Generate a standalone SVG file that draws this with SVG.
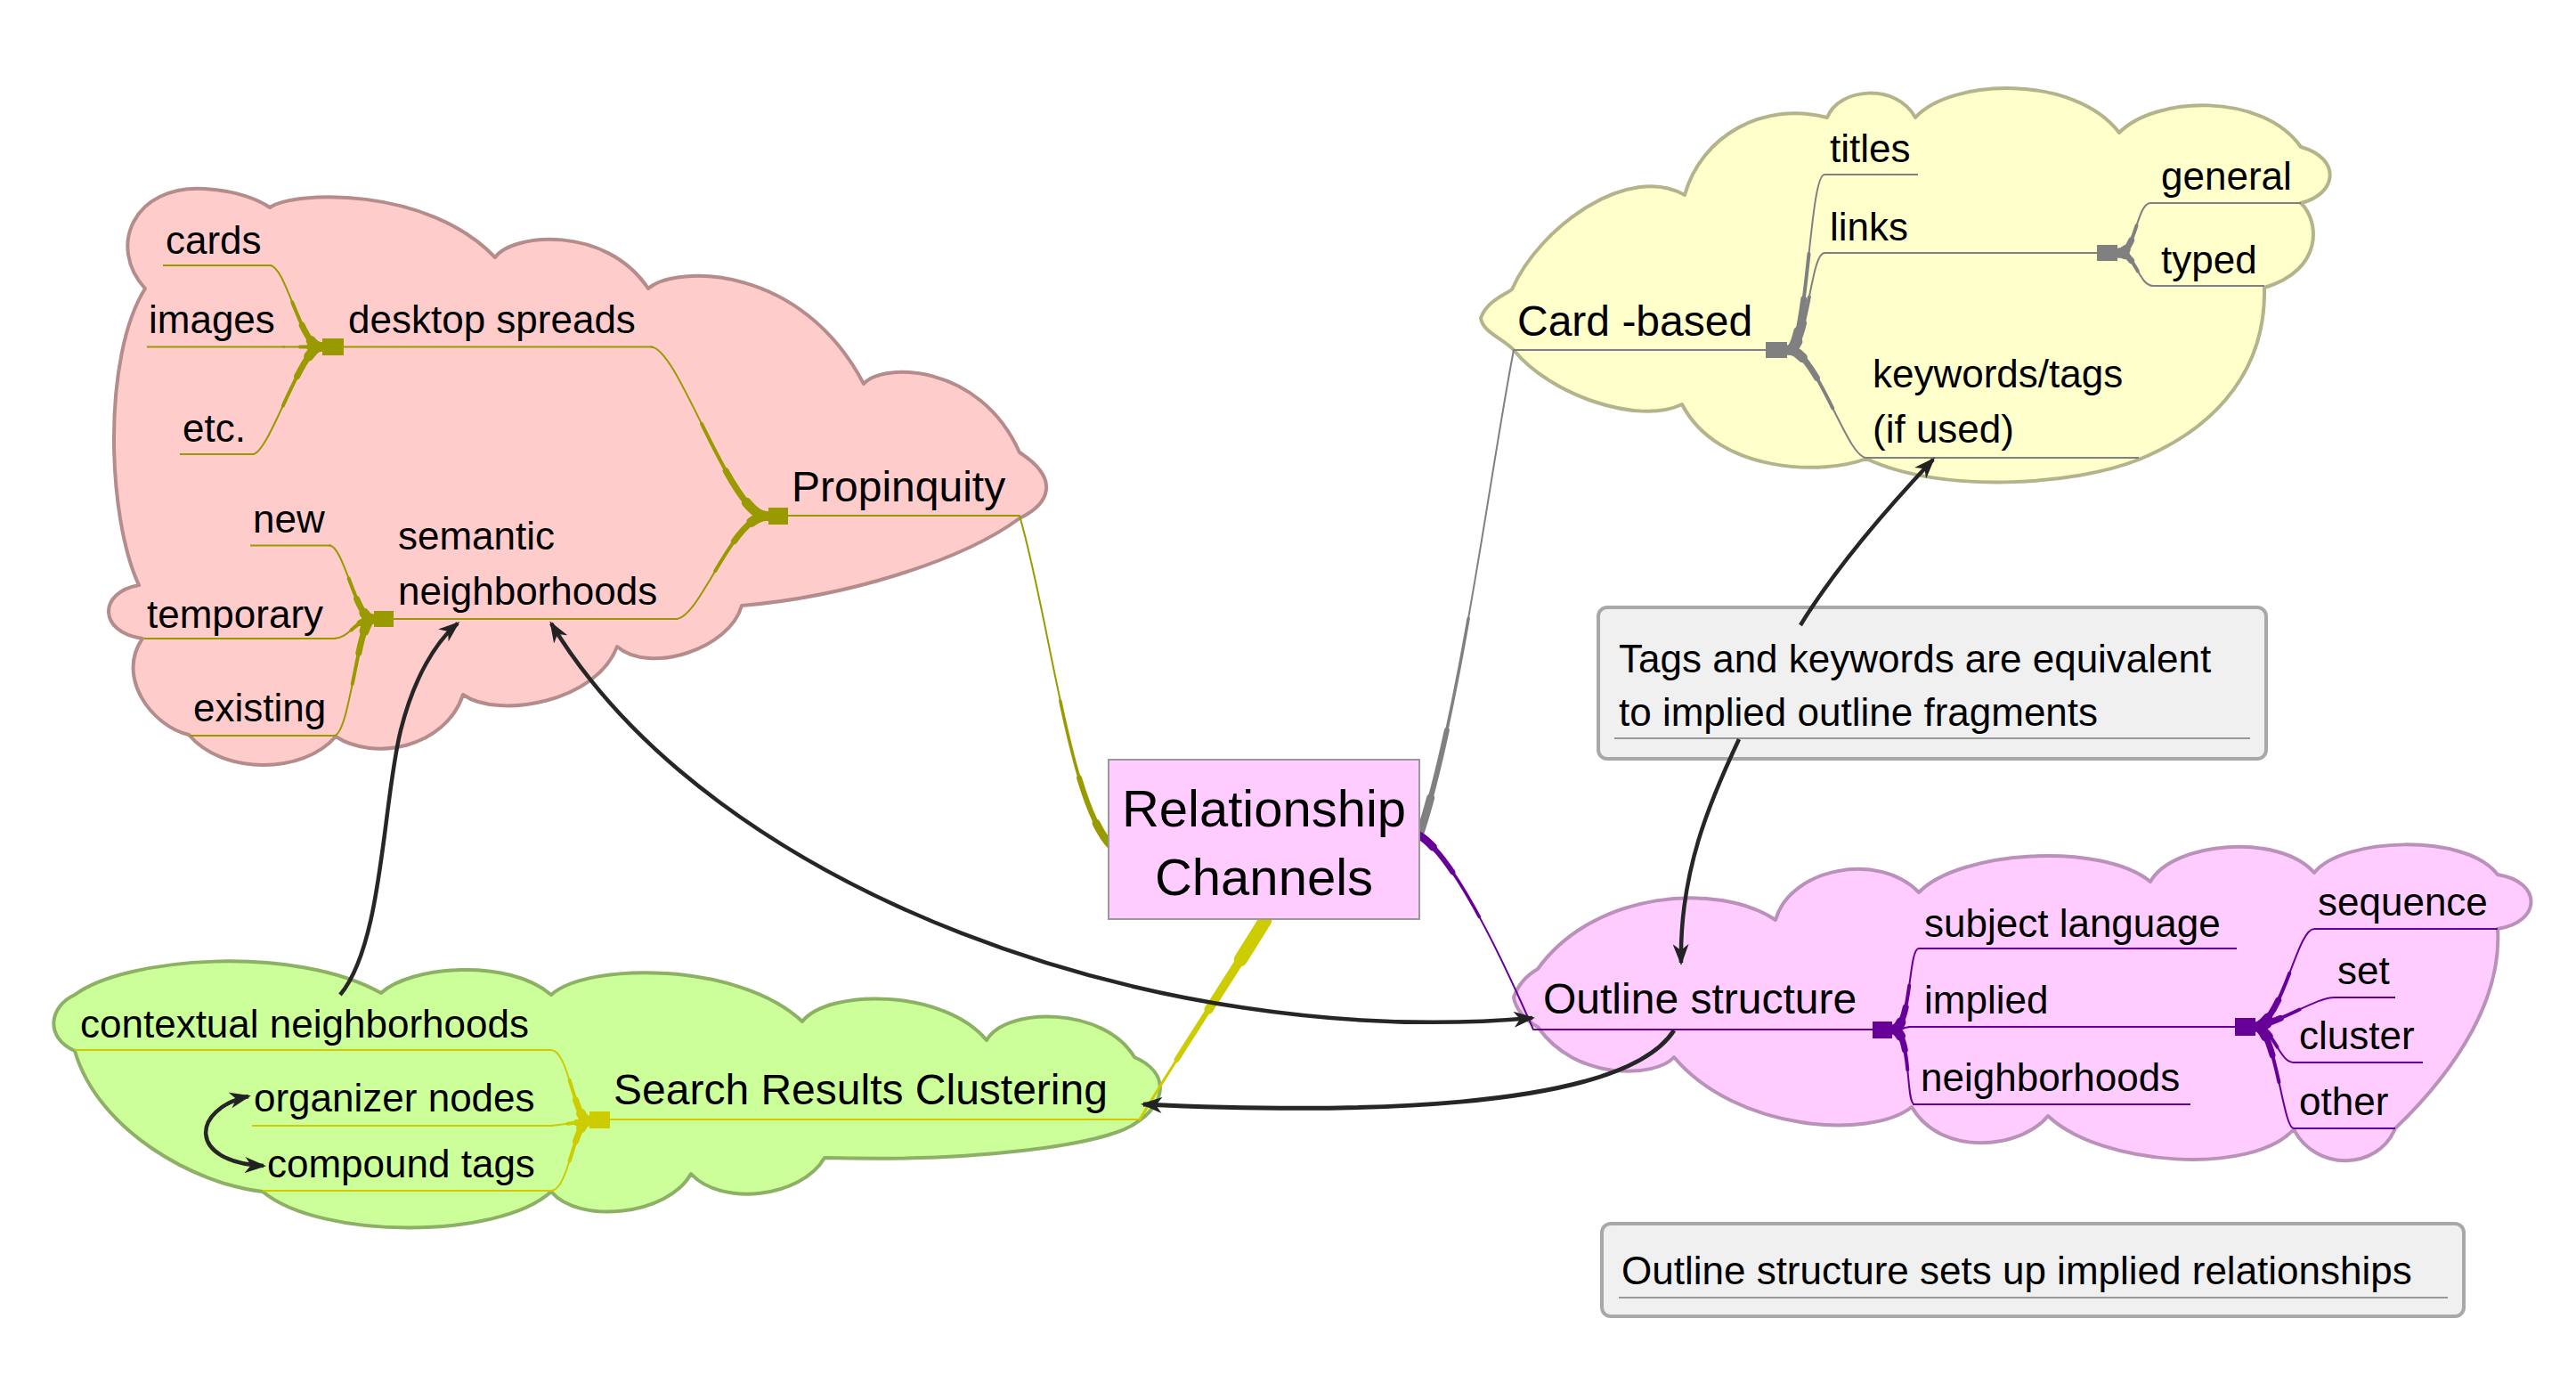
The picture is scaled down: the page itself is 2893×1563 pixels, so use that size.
<svg xmlns="http://www.w3.org/2000/svg" width="2893" height="1563" viewBox="0 0 2893 1563">
<style>
text { font-family: "Liberation Sans", Arial, Helvetica, sans-serif; fill: #000; }
.leaf { font-size: 44px; }
.main { font-size: 48px; }
.center { font-size: 58px; text-anchor: middle; }
.cloud { stroke-width: 4; stroke-linejoin: round; }
.ul { fill: none; stroke-width: 2; }
.olive { stroke: #999900; }
.gray { stroke: #808080; }
.purple { stroke: #660099; }
.yel { stroke: #CCCC00; }
.br { fill: none; stroke-linecap: round; }
.b0 { stroke-width: 2; }
.b1 { stroke-width: 4; stroke-dasharray: 55 1000; }
.b2 { stroke-width: 7; stroke-dasharray: 30 1000; }
.b3 { stroke-width: 11; stroke-dasharray: 12 1000; }
.m0 { stroke-width: 2; }
.m1 { stroke-width: 3.5; stroke-dasharray: 45 1000; }
.m2 { stroke-width: 6; stroke-dasharray: 22 1000; }
.m3 { stroke-width: 9; stroke-dasharray: 8 1000; }
.y0 { stroke-width: 3; }
.y1 { stroke-width: 6; stroke-dasharray: 70 1000; }
.y2 { stroke-width: 10; stroke-dasharray: 45 1000; }
.y3 { stroke-width: 15; stroke-dasharray: 20 1000; }
.arrow { fill: none; stroke: #262626; stroke-width: 4.5; }
.note { fill: #F0F0F0; stroke: #A8A8A8; stroke-width: 4; }
.noteul { fill: none; stroke: #999999; stroke-width: 2; }
</style>
<defs>
<marker id="ah" viewBox="0 0 24 18" refX="21" refY="9" markerWidth="24" markerHeight="18" markerUnits="userSpaceOnUse" orient="auto-start-reverse">
<path d="M0,0 L24,9 L0,18 L7,9 Z" fill="#222"/>
</marker>
<!-- olive branches -->
<path id="bp1" pathLength="100" d="M360,389.5 C338,389.5 321,298 303,298"/>
<path id="bp2" pathLength="100" d="M360,389.5 L318,389.5"/>
<path id="bp3" pathLength="100" d="M360,389.5 C338,389.5 302,510 284,510"/>
<path id="bp4" pathLength="100" d="M861,579.5 C820,579.5 762,389.5 731,389.5"/>
<path id="bp5" pathLength="100" d="M861,579.5 C822,579.5 786,695 759,695"/>
<path id="bp6" pathLength="100" d="M418,695 C400,695 386,612.5 370,612.5"/>
<path id="bp7" pathLength="100" d="M418,695 C400,695 392,717 375,717"/>
<path id="bp8" pathLength="100" d="M418,695 C402,695 393,826 375,826"/>
<path id="mo" pathLength="100" d="M1248,950 C1200,900 1180,700 1145,579"/>
<!-- gray branches -->
<path id="bg1" pathLength="100" d="M2009,393 C2030,393 2032,196 2049,196"/>
<path id="bg2" pathLength="100" d="M2009,393 C2030,393 2033,284 2049,284"/>
<path id="bg3" pathLength="100" d="M2009,393 C2040,393 2074,514 2096,514"/>
<path id="bg4" pathLength="100" d="M2380,284 C2398,284 2400,228 2415,228"/>
<path id="bg5" pathLength="100" d="M2380,284 C2398,284 2402,321 2418,321"/>
<path id="mg" pathLength="100" d="M1594,938 C1640,800 1675,520 1700,393"/>
<!-- purple branches -->
<path id="bu1" pathLength="100" d="M2127,1156 C2147,1150 2143,1065 2155,1065"/>
<path id="bu2" pathLength="100" d="M2127,1156 L2145,1153"/>
<path id="bu3" pathLength="100" d="M2127,1156 C2147,1162 2140,1240 2150,1240"/>
<path id="bu4" pathLength="100" d="M2535,1153 C2565,1140 2580,1043 2599,1043"/>
<path id="bu5" pathLength="100" d="M2535,1153 C2570,1143 2602,1120 2622,1120"/>
<path id="bu6" pathLength="100" d="M2535,1153 C2555,1158 2560,1193 2576,1193"/>
<path id="bu7" pathLength="100" d="M2535,1153 C2556,1160 2564,1267 2576,1267"/>
<path id="mp" pathLength="100" d="M1594,938 C1630,960 1680,1060 1722,1156"/>
<!-- yellow branches -->
<path id="by1" pathLength="100" d="M660,1258 C645,1255 638,1179 619,1179"/>
<path id="by2" pathLength="100" d="M660,1259 L619,1264"/>
<path id="by3" pathLength="100" d="M660,1259 C645,1262 638,1337 619,1337"/>
<path id="my" pathLength="100" d="M1421,1033 C1380,1100 1320,1190 1280,1257"/>
</defs>

<rect x="0" y="0" width="2893" height="1563" fill="#FFFFFF"/>

<g id="propinquity">
<path class="cloud" fill="#FFCCCC" stroke="#B48C8C" d="M163,324 C120,277 150,207 230,212 C265,214 290,224 303,233 C330,214 480,209 556,289 C575,262 680,252 728,324 C760,297 900,297 970,431 C990,407 1100,407 1145,508 C1190,537 1180,565 1145,582 C1080,630 950,670 833,680 C820,728 730,758 693,726 C670,788 560,808 520,780 C500,840 420,855 377,827 C340,870 250,870 212,825 C170,815 130,760 160,717 C110,710 110,665 156,657 C120,580 115,400 163,324 Z"/>
<g class="olive">
<path class="ul" d="M183,298 H305"/>
<path class="ul" d="M165,389.5 H320"/>
<path class="ul" d="M202,510 H286"/>
<path class="ul" d="M386,389.5 H733"/>
<path class="ul" d="M885,579 H1145"/>
<path class="ul" d="M281,612.5 H372"/>
<path class="ul" d="M442,695 H761"/>
<path class="ul" d="M162,717 H377"/>
<path class="ul" d="M213,826 H377"/>
<use href="#bp1" class="br b0"/><use href="#bp1" class="br b1"/><use href="#bp1" class="br b2"/><use href="#bp1" class="br b3"/>
<use href="#bp2" class="br b0"/><use href="#bp2" class="br b1"/><use href="#bp2" class="br b2"/><use href="#bp2" class="br b3"/>
<use href="#bp3" class="br b0"/><use href="#bp3" class="br b1"/><use href="#bp3" class="br b2"/><use href="#bp3" class="br b3"/>
<use href="#bp4" class="br b0"/><use href="#bp4" class="br b1"/><use href="#bp4" class="br b2"/><use href="#bp4" class="br b3"/>
<use href="#bp5" class="br b0"/><use href="#bp5" class="br b1"/><use href="#bp5" class="br b2"/><use href="#bp5" class="br b3"/>
<use href="#bp6" class="br b0"/><use href="#bp6" class="br b1"/><use href="#bp6" class="br b2"/><use href="#bp6" class="br b3"/>
<use href="#bp7" class="br b0"/><use href="#bp7" class="br b1"/><use href="#bp7" class="br b2"/><use href="#bp7" class="br b3"/>
<use href="#bp8" class="br b0"/><use href="#bp8" class="br b1"/><use href="#bp8" class="br b2"/><use href="#bp8" class="br b3"/>
</g>
<rect x="362" y="380" width="24" height="19" fill="#999900"/>
<rect x="863" y="570" width="22" height="19" fill="#999900"/>
<rect x="420" y="686" width="22" height="18" fill="#999900"/>
<text class="leaf" x="186" y="285">cards</text>
<text class="leaf" x="167" y="374">images</text>
<text class="leaf" x="205" y="496">etc.</text>
<text class="leaf" x="391" y="374">desktop spreads</text>
<text class="main" x="889" y="563">Propinquity</text>
<text class="leaf" x="284" y="598">new</text>
<text class="leaf" x="447" y="617">semantic</text>
<text class="leaf" x="447" y="679">neighborhoods</text>
<text class="leaf" x="165" y="705">temporary</text>
<text class="leaf" x="217" y="810">existing</text>
</g>

<g id="card-based">
<path class="cloud" fill="#FFFFCC" stroke="#B4B48C" d="M1663,357 C1670,338 1690,331 1698,325 C1730,253 1830,183 1892,219 C1910,153 1980,113 2052,132 C2065,98 2130,93 2151,132 C2190,88 2330,83 2380,149 C2420,108 2540,103 2584,165 C2630,178 2625,218 2584,228 C2605,248 2610,303 2543,323 C2545,410 2495,478 2402,516 C2330,545 2180,555 2096,515 C2050,533 1930,533 1889,454 C1840,478 1740,443 1700,393 C1688,380 1665,373 1663,357 Z"/>
<g class="gray">
<path class="ul" d="M2049,196 H2154"/>
<path class="ul" d="M2049,284 H2355"/>
<path class="ul" d="M1700,393 H1983"/>
<path class="ul" d="M2096,514 H2402"/>
<path class="ul" d="M2415,228 H2584"/>
<path class="ul" d="M2418,321 H2543"/>
<use href="#bg1" class="br b0"/><use href="#bg1" class="br b1"/><use href="#bg1" class="br b2"/><use href="#bg1" class="br b3"/>
<use href="#bg2" class="br b0"/><use href="#bg2" class="br b1"/><use href="#bg2" class="br b2"/><use href="#bg2" class="br b3"/>
<use href="#bg3" class="br b0"/><use href="#bg3" class="br b1"/><use href="#bg3" class="br b2"/><use href="#bg3" class="br b3"/>
<use href="#bg4" class="br b0"/><use href="#bg4" class="br b1"/><use href="#bg4" class="br b2"/><use href="#bg4" class="br b3"/>
<use href="#bg5" class="br b0"/><use href="#bg5" class="br b1"/><use href="#bg5" class="br b2"/><use href="#bg5" class="br b3"/>
</g>
<rect x="1983" y="384" width="24" height="18" fill="#808080"/>
<rect x="2355" y="275" width="23" height="18" fill="#808080"/>
<text class="leaf" x="2055" y="182">titles</text>
<text class="leaf" x="2055" y="270">links</text>
<text class="leaf" x="2427" y="213">general</text>
<text class="leaf" x="2427" y="307">typed</text>
<text class="main" x="1704" y="377">Card -based</text>
<text class="leaf" x="2103" y="435">keywords/tags</text>
<text class="leaf" x="2103" y="497">(if used)</text>
</g>

<g id="outline-structure">
<path class="cloud" fill="#FFCCFF" stroke="#B991B9" d="M1700,1120 C1705,1105 1715,1095 1727,1088 C1790,1000 1930,990 1994,1033 C2010,975 2110,955 2155,1002 C2200,955 2360,945 2415,990 C2440,945 2560,935 2599,980 C2630,940 2770,935 2805,982 C2855,990 2855,1035 2805,1043 C2810,1120 2760,1200 2690,1267 C2670,1315 2600,1315 2576,1268 C2530,1320 2360,1310 2300,1253 C2270,1290 2180,1300 2147,1243 C2100,1280 1950,1270 1880,1187 C1860,1210 1770,1215 1727,1153 C1712,1145 1702,1132 1700,1120 Z"/>
<g class="purple">
<path class="ul" d="M1723,1156 H2104"/>
<path class="ul" d="M2155,1065 H2512"/>
<path class="ul" d="M2143,1153 H2510"/>
<path class="ul" d="M2148,1240 H2460"/>
<path class="ul" d="M2599,1043 H2805"/>
<path class="ul" d="M2622,1120 H2690"/>
<path class="ul" d="M2576,1193 H2721"/>
<path class="ul" d="M2576,1267 H2690"/>
<use href="#bu1" class="br b0"/><use href="#bu1" class="br b1"/><use href="#bu1" class="br b2"/><use href="#bu1" class="br b3"/>
<use href="#bu2" class="br b0"/><use href="#bu2" class="br b1"/><use href="#bu2" class="br b2"/><use href="#bu2" class="br b3"/>
<use href="#bu3" class="br b0"/><use href="#bu3" class="br b1"/><use href="#bu3" class="br b2"/><use href="#bu3" class="br b3"/>
<use href="#bu4" class="br b0"/><use href="#bu4" class="br b1"/><use href="#bu4" class="br b2"/><use href="#bu4" class="br b3"/>
<use href="#bu5" class="br b0"/><use href="#bu5" class="br b1"/><use href="#bu5" class="br b2"/><use href="#bu5" class="br b3"/>
<use href="#bu6" class="br b0"/><use href="#bu6" class="br b1"/><use href="#bu6" class="br b2"/><use href="#bu6" class="br b3"/>
<use href="#bu7" class="br b0"/><use href="#bu7" class="br b1"/><use href="#bu7" class="br b2"/><use href="#bu7" class="br b3"/>
</g>
<rect x="2103" y="1147" width="22" height="19" fill="#660099"/>
<rect x="2510" y="1143" width="23" height="20" fill="#660099"/>
<text class="main" x="1733" y="1138">Outline structure</text>
<text class="leaf" x="2161" y="1052">subject language</text>
<text class="leaf" x="2161" y="1138">implied</text>
<text class="leaf" x="2157" y="1225">neighborhoods</text>
<text class="leaf" x="2603" y="1028">sequence</text>
<text class="leaf" x="2625" y="1105">set</text>
<text class="leaf" x="2582" y="1178">cluster</text>
<text class="leaf" x="2582" y="1252">other</text>
</g>

<g id="search-results-clustering">
<path class="cloud" fill="#CCFF99" stroke="#8CB064" d="M84,1117 C140,1075 330,1060 428,1115 C460,1085 570,1075 619,1117 C660,1080 830,1080 901,1147 C930,1110 1060,1110 1108,1168 C1130,1130 1240,1130 1274,1187 C1315,1205 1310,1240 1274,1262 C1240,1285 1100,1305 926,1300 C900,1345 810,1355 776,1318 C750,1365 650,1375 619,1338 C560,1392 360,1392 295,1338 C220,1330 110,1270 84,1180 C50,1165 55,1130 84,1117 Z"/>
<g class="yel">
<path class="ul" d="M84,1179 H619"/>
<path class="ul" d="M685,1257 H1278"/>
<path class="ul" d="M283,1264 H621"/>
<path class="ul" d="M295,1337 H619"/>
<use href="#by1" class="br b0"/><use href="#by1" class="br b1"/><use href="#by1" class="br b2"/><use href="#by1" class="br b3"/>
<use href="#by2" class="br b0"/><use href="#by2" class="br b1"/><use href="#by2" class="br b2"/><use href="#by2" class="br b3"/>
<use href="#by3" class="br b0"/><use href="#by3" class="br b1"/><use href="#by3" class="br b2"/><use href="#by3" class="br b3"/>
</g>
<rect x="662" y="1248" width="23" height="19" fill="#CCCC00"/>
<text class="leaf" x="90" y="1165">contextual neighborhoods</text>
<text class="main" x="689" y="1240">Search Results Clustering</text>
<text class="leaf" x="285" y="1248">organizer nodes</text>
<text class="leaf" x="300" y="1322">compound tags</text>
</g>

<g id="note-tags">
<rect class="note" x="1795" y="682" width="750" height="170" rx="10"/>
<text class="leaf" x="1818" y="755">Tags and keywords are equivalent</text>
<text class="leaf" x="1818" y="815">to implied outline fragments</text>
<path class="noteul" d="M1813,829 H2527"/>
</g>

<g id="note-outline">
<rect class="note" x="1799" y="1374" width="968" height="104" rx="10"/>
<text class="leaf" x="1821" y="1442">Outline structure sets up implied relationships</text>
<path class="noteul" d="M1818,1457 H2749"/>
</g>

<g id="connectors">
<g class="olive">
<use href="#mo" class="br m0"/><use href="#mo" class="br m1"/><use href="#mo" class="br m2"/><use href="#mo" class="br m3"/>
</g>
<g class="gray">
<use href="#mg" class="br m0"/><use href="#mg" class="br m1"/><use href="#mg" class="br m2"/><use href="#mg" class="br m3"/>
</g>
<g class="purple">
<use href="#mp" class="br m0"/><use href="#mp" class="br m1"/><use href="#mp" class="br m2"/><use href="#mp" class="br m3"/>
</g>
<g class="yel">
<use href="#my" class="br y0"/><use href="#my" class="br y1"/><use href="#my" class="br y2"/><use href="#my" class="br y3"/>
</g>
<path class="arrow" marker-end="url(#ah)" d="M2022,702 C2060,640 2120,570 2171,516"/>
<path class="arrow" marker-end="url(#ah)" d="M1953,830 C1920,900 1886,980 1888,1081"/>
<path class="arrow" marker-start="url(#ah)" marker-end="url(#ah)" d="M619,700 C800,1000 1300,1180 1721,1143"/>
<path class="arrow" style="stroke-width:5" marker-end="url(#ah)" d="M1880,1157 C1820,1250 1500,1250 1284,1240"/>
<path class="arrow" marker-end="url(#ah)" d="M382,1117 C430,1060 430,900 450,820 C465,760 490,720 514,700"/>
<path class="arrow" marker-start="url(#ah)" marker-end="url(#ah)" d="M279,1231 C215,1245 210,1305 296,1309"/>
</g>

<g id="relationship-channels">
<rect x="1245" y="853" width="349" height="179" fill="#FFCCFF" stroke="#999999" stroke-width="2"/>
<text class="center" x="1419.5" y="928">Relationship</text>
<text class="center" x="1419.5" y="1005">Channels</text>
</g>
</svg>
